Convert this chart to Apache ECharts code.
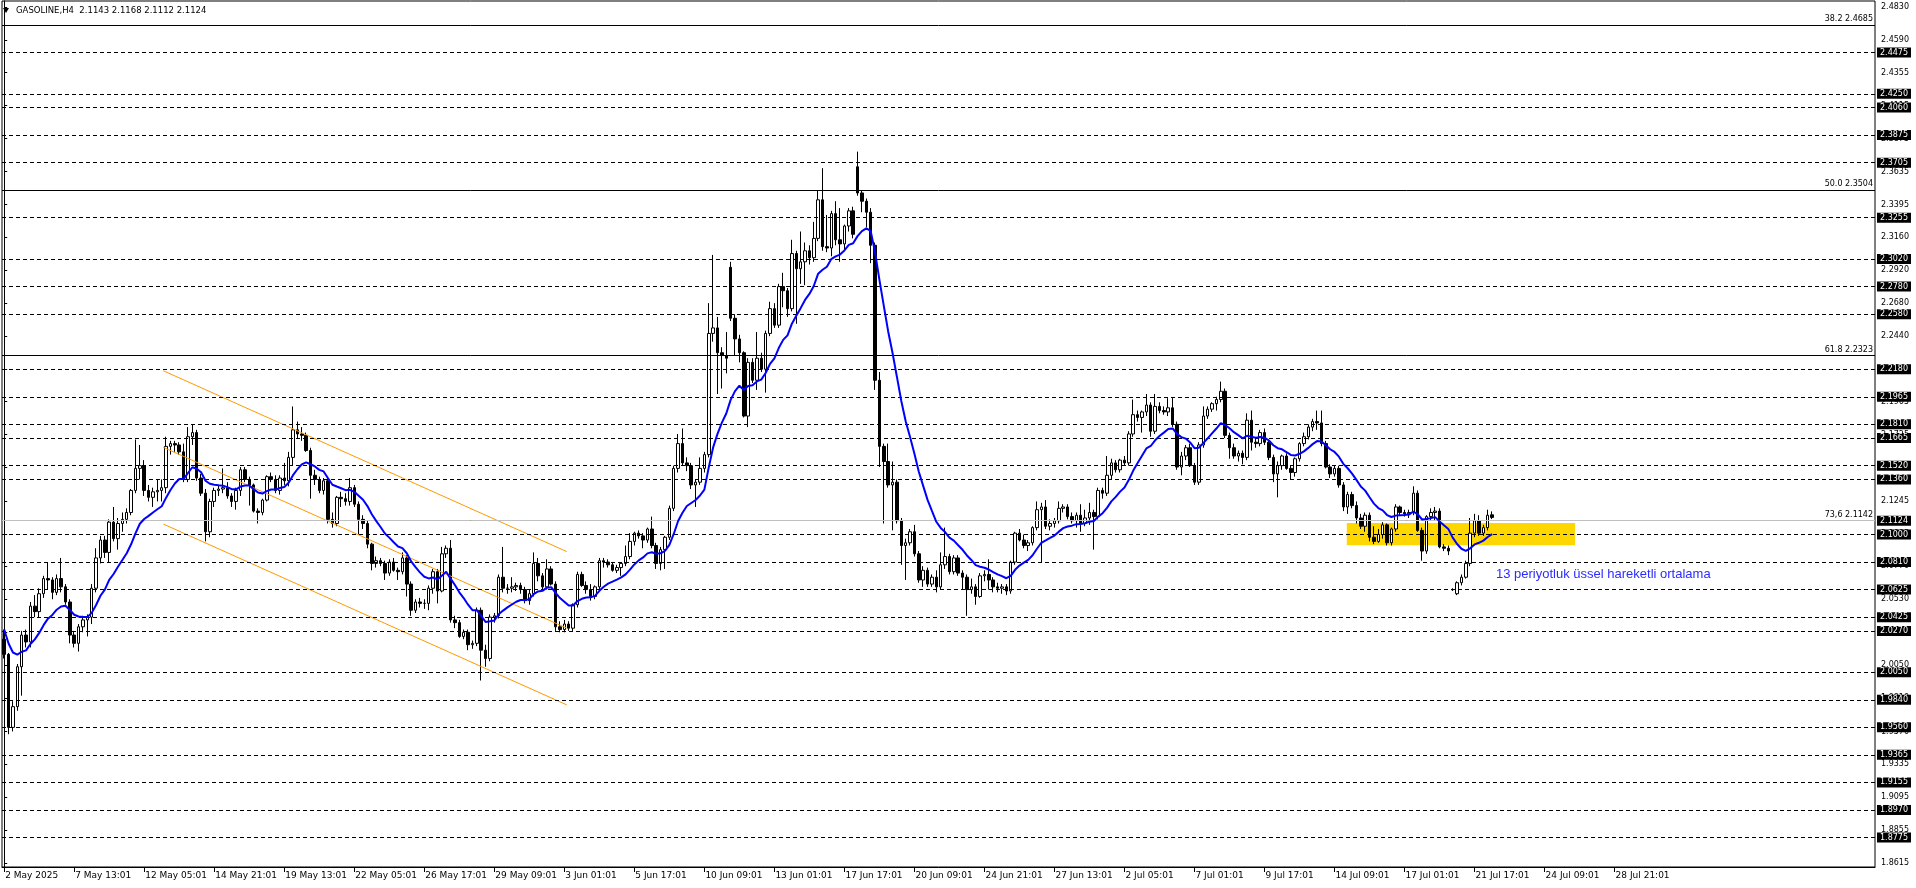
<!DOCTYPE html>
<html><head><meta charset="utf-8">
<script src="https://cdn.jsdelivr.net/npm/echarts@6/dist/echarts.min.js"></script>
<style>html,body{margin:0;padding:0;background:#fff;}#c{width:1916px;height:888px;}</style>
</head><body><div id="c"></div>
<script>
const title = 'GASOLINE,H4  2.1143 2.1168 2.1112 2.1124';
const emaNote = '13 periyotluk üssel hareketli ortalama';
const timeLabels = ['2 May 2025','7 May 13:01','12 May 05:01','14 May 21:01','19 May 13:01','22 May 05:01','26 May 17:01','29 May 09:01','3 Jun 01:01','5 Jun 17:01','10 Jun 09:01','13 Jun 01:01','17 Jun 17:01','20 Jun 09:01','24 Jun 21:01','27 Jun 13:01','2 Jul 05:01','7 Jul 01:01','9 Jul 17:01','14 Jul 09:01','17 Jul 01:01','21 Jul 17:01','24 Jul 09:01','28 Jul 21:01'];
const barsPerLabel = 16;
const totalSlots = 428;
const scaleTicks = [2.4830,2.4590,2.4355,2.4115,2.3875,2.3635,2.3395,2.3160,2.2920,2.2680,2.2440,2.2200,2.1965,2.1725,2.1485,2.1245,2.1005,2.0770,2.0530,2.0290,2.0050,1.9810,1.9570,1.9335,1.9095,1.8855,1.8615];
const levels = [2.4475,2.4250,2.4060,2.3875,2.3705,2.3255,2.3020,2.2780,2.2580,2.2180,2.1965,2.1810,2.1665,2.1520,2.1360,2.1000,2.0810,2.0625,2.0425,2.0270,2.0050,1.9840,1.9560,1.9365,1.9155,1.8970,1.8775];
const fibLevels = [2.4685,2.3504,2.2323,2.1142];
const fibNames = ['38.2 2.4685','50.0 2.3504','61.8 2.2323','73,6 2.1142'];
const lastPrice = 2.1124;
const emaPeriod = 13;
const emaSeed = 2.034;
// channel lines: [startIndex, startPrice, endIndex, endPrice]
const channelUpper = [36.36, 2.2189, 128.55, 2.0876];
const channelMiddle = [36.36, 2.1633, 128.55, 2.0320];
const channelLower = [36.36, 2.1076, 128.55, 1.9763];
// zone: [fromIndex, toIndex, lowPrice, highPrice]
const zone = [306.8, 358.96, 2.0922, 2.1084];
// candles: [open, high, low, close]
const ohlc = [
[2.024,2.031,2.010,2.013],[2.013,2.014,1.955,1.960],[1.960,1.979,1.957,1.975],[1.975,2.006,1.972,2.004],[2.004,2.030,1.983,2.027],
[2.027,2.031,2.018,2.022],[2.022,2.051,2.018,2.048],[2.048,2.056,2.040,2.044],[2.044,2.061,2.040,2.057],[2.057,2.070,2.054,2.068],
[2.068,2.080,2.060,2.067],[2.067,2.069,2.053,2.058],[2.058,2.071,2.056,2.068],[2.068,2.083,2.058,2.062],[2.062,2.064,2.049,2.051],
[2.051,2.053,2.021,2.027],[2.027,2.030,2.018,2.021],[2.021,2.035,2.015,2.033],[2.033,2.041,2.029,2.038],[2.038,2.042,2.026,2.040],
[2.040,2.064,2.035,2.061],[2.061,2.090,2.058,2.083],[2.083,2.099,2.079,2.096],[2.096,2.099,2.083,2.087],[2.087,2.111,2.080,2.109],
[2.109,2.120,2.095,2.097],[2.097,2.112,2.089,2.108],[2.108,2.116,2.102,2.111],[2.111,2.119,2.108,2.116],[2.116,2.133,2.114,2.132],
[2.132,2.169,2.130,2.148],[2.148,2.165,2.140,2.150],[2.150,2.154,2.128,2.132],[2.132,2.136,2.124,2.127],[2.127,2.134,2.120,2.131],
[2.131,2.140,2.124,2.132],[2.132,2.140,2.124,2.134],[2.134,2.171,2.130,2.164],[2.164,2.168,2.158,2.166],[2.166,2.168,2.160,2.165],
[2.165,2.167,2.158,2.160],[2.160,2.166,2.138,2.140],[2.140,2.178,2.138,2.171],[2.171,2.180,2.165,2.174],[2.174,2.176,2.139,2.141],
[2.141,2.144,2.128,2.130],[2.130,2.133,2.095,2.102],[2.102,2.126,2.098,2.124],[2.124,2.134,2.120,2.132],[2.132,2.136,2.128,2.133],
[2.133,2.148,2.130,2.134],[2.134,2.138,2.126,2.128],[2.128,2.130,2.120,2.124],[2.124,2.134,2.118,2.132],[2.132,2.149,2.128,2.147],
[2.147,2.149,2.138,2.140],[2.140,2.142,2.121,2.136],[2.136,2.137,2.116,2.117],[2.117,2.119,2.108,2.116],[2.116,2.126,2.114,2.125],
[2.125,2.143,2.124,2.142],[2.142,2.145,2.138,2.140],[2.140,2.143,2.130,2.132],[2.132,2.143,2.129,2.141],[2.141,2.152,2.136,2.139],
[2.139,2.160,2.135,2.156],[2.156,2.193,2.150,2.176],[2.176,2.182,2.170,2.173],[2.173,2.178,2.168,2.172],[2.172,2.174,2.160,2.161],
[2.161,2.163,2.126,2.143],[2.143,2.147,2.136,2.140],[2.140,2.142,2.130,2.132],[2.132,2.141,2.129,2.139],[2.139,2.141,2.108,2.111],
[2.111,2.116,2.105,2.108],[2.108,2.128,2.106,2.127],[2.127,2.131,2.120,2.126],[2.126,2.130,2.121,2.124],[2.124,2.141,2.121,2.134],
[2.134,2.136,2.120,2.122],[2.122,2.124,2.100,2.111],[2.111,2.114,2.104,2.108],[2.108,2.110,2.090,2.093],[2.093,2.094,2.074,2.079],
[2.079,2.084,2.076,2.081],[2.081,2.083,2.077,2.079],[2.079,2.081,2.067,2.072],[2.072,2.082,2.070,2.080],[2.080,2.083,2.073,2.074],
[2.074,2.076,2.067,2.073],[2.073,2.087,2.071,2.083],[2.083,2.085,2.055,2.064],[2.064,2.066,2.041,2.045],[2.045,2.053,2.043,2.051],
[2.051,2.054,2.047,2.050],[2.050,2.053,2.046,2.050],[2.050,2.063,2.045,2.061],[2.061,2.075,2.057,2.073],[2.073,2.075,2.050,2.059],
[2.059,2.091,2.058,2.086],[2.086,2.092,2.083,2.090],[2.090,2.096,2.036,2.038],[2.038,2.041,2.032,2.036],[2.036,2.038,2.025,2.026],
[2.026,2.031,2.024,2.029],[2.029,2.031,2.016,2.020],[2.020,2.023,2.017,2.021],[2.021,2.047,2.019,2.045],[2.045,2.047,1.994,2.016],
[2.016,2.020,2.004,2.010],[2.010,2.042,2.008,2.040],[2.040,2.043,2.036,2.041],[2.041,2.071,2.039,2.069],[2.069,2.091,2.058,2.061],
[2.061,2.064,2.057,2.061],[2.061,2.069,2.058,2.062],[2.062,2.065,2.059,2.063],[2.063,2.065,2.057,2.060],[2.060,2.062,2.050,2.052],
[2.052,2.060,2.049,2.057],[2.057,2.087,2.055,2.079],[2.079,2.083,2.066,2.070],[2.070,2.072,2.060,2.062],[2.062,2.082,2.060,2.075],
[2.075,2.077,2.063,2.064],[2.064,2.066,2.030,2.033],[2.033,2.037,2.029,2.031],[2.031,2.038,2.029,2.035],[2.035,2.037,2.030,2.032],
[2.032,2.050,2.030,2.049],[2.049,2.073,2.047,2.071],[2.071,2.073,2.062,2.063],[2.063,2.066,2.057,2.060],[2.060,2.064,2.052,2.055],
[2.055,2.063,2.053,2.062],[2.062,2.083,2.060,2.081],[2.081,2.083,2.076,2.080],[2.080,2.082,2.076,2.078],[2.078,2.080,2.073,2.074],
[2.074,2.078,2.072,2.076],[2.076,2.080,2.070,2.079],[2.079,2.092,2.077,2.084],[2.084,2.101,2.082,2.095],[2.095,2.102,2.092,2.101],
[2.101,2.103,2.097,2.099],[2.099,2.101,2.090,2.096],[2.096,2.105,2.094,2.104],[2.104,2.113,2.090,2.092],[2.092,2.094,2.075,2.079],
[2.079,2.091,2.074,2.089],[2.089,2.099,2.075,2.098],[2.098,2.121,2.096,2.119],[2.119,2.150,2.117,2.148],[2.148,2.173,2.145,2.166],
[2.166,2.177,2.150,2.152],[2.152,2.156,2.146,2.150],[2.150,2.152,2.133,2.136],[2.136,2.140,2.120,2.138],[2.138,2.156,2.136,2.148],
[2.148,2.160,2.145,2.158],[2.158,2.268,2.156,2.246],[2.246,2.303,2.240,2.250],[2.250,2.258,2.202,2.232],[2.232,2.236,2.206,2.230],
[2.230,2.247,2.217,2.228],[2.294,2.298,2.255,2.257],[2.257,2.260,2.230,2.242],[2.242,2.245,2.225,2.232],[2.232,2.233,2.185,2.186],
[2.186,2.228,2.178,2.225],[2.225,2.228,2.210,2.212],[2.212,2.247,2.205,2.228],[2.228,2.232,2.218,2.220],[2.220,2.248,2.203,2.246],
[2.246,2.269,2.244,2.264],[2.264,2.268,2.250,2.252],[2.252,2.282,2.250,2.280],[2.280,2.290,2.265,2.277],[2.277,2.279,2.258,2.264],
[2.264,2.314,2.262,2.304],[2.304,2.306,2.253,2.293],[2.293,2.320,2.282,2.298],[2.298,2.312,2.281,2.306],[2.306,2.310,2.296,2.301],
[2.301,2.327,2.298,2.315],[2.315,2.350,2.313,2.343],[2.343,2.366,2.306,2.309],[2.309,2.332,2.305,2.308],[2.308,2.335,2.302,2.333],
[2.333,2.342,2.310,2.314],[2.314,2.337,2.298,2.311],[2.311,2.325,2.306,2.324],[2.324,2.337,2.320,2.335],[2.335,2.338,2.315,2.318],
[2.367,2.378,2.346,2.348],[2.348,2.350,2.334,2.342],[2.342,2.344,2.323,2.334],[2.334,2.337,2.297,2.310],[2.310,2.312,2.205,2.212],
[2.212,2.218,2.149,2.164],[2.164,2.166,2.108,2.153],[2.153,2.166,2.134,2.136],[2.136,2.153,2.103,2.138],[2.138,2.140,2.108,2.110],
[2.110,2.112,2.078,2.092],[2.092,2.097,2.067,2.094],[2.094,2.104,2.092,2.102],[2.102,2.107,2.084,2.086],[2.086,2.088,2.065,2.067],
[2.067,2.077,2.062,2.074],[2.074,2.076,2.062,2.064],[2.064,2.071,2.062,2.069],[2.069,2.074,2.058,2.062],[2.062,2.087,2.060,2.078],
[2.078,2.105,2.075,2.084],[2.084,2.086,2.071,2.073],[2.073,2.085,2.071,2.083],[2.083,2.085,2.070,2.072],[2.072,2.074,2.060,2.069],
[2.069,2.071,2.041,2.060],[2.060,2.068,2.057,2.062],[2.062,2.064,2.049,2.055],[2.055,2.072,2.054,2.070],[2.070,2.074,2.066,2.071],
[2.071,2.082,2.060,2.067],[2.067,2.069,2.058,2.062],[2.062,2.065,2.058,2.061],[2.061,2.064,2.057,2.062],[2.062,2.064,2.056,2.059],
[2.059,2.081,2.057,2.080],[2.080,2.102,2.078,2.101],[2.101,2.104,2.095,2.096],[2.096,2.100,2.090,2.092],[2.092,2.096,2.088,2.094],
[2.094,2.106,2.092,2.105],[2.105,2.124,2.103,2.118],[2.118,2.123,2.080,2.120],[2.120,2.125,2.104,2.106],[2.106,2.111,2.103,2.108],
[2.108,2.112,2.105,2.110],[2.110,2.124,2.108,2.119],[2.119,2.122,2.116,2.120],[2.120,2.122,2.111,2.113],[2.113,2.116,2.108,2.110],
[2.110,2.116,2.105,2.114],[2.114,2.122,2.102,2.108],[2.108,2.118,2.106,2.112],[2.112,2.123,2.107,2.116],[2.116,2.118,2.089,2.113],
[2.113,2.134,2.111,2.132],[2.132,2.134,2.126,2.130],[2.130,2.157,2.128,2.143],[2.143,2.155,2.140,2.152],[2.152,2.154,2.145,2.147],
[2.147,2.155,2.145,2.154],[2.154,2.157,2.150,2.152],[2.152,2.175,2.150,2.173],[2.173,2.198,2.171,2.187],[2.187,2.190,2.182,2.185],
[2.185,2.190,2.174,2.189],[2.189,2.202,2.186,2.194],[2.194,2.196,2.171,2.175],[2.175,2.202,2.173,2.193],[2.193,2.196,2.188,2.190],
[2.190,2.193,2.187,2.189],[2.189,2.199,2.186,2.192],[2.192,2.199,2.178,2.180],[2.180,2.182,2.147,2.149],[2.149,2.160,2.143,2.157],
[2.157,2.165,2.154,2.163],[2.163,2.166,2.149,2.150],[2.150,2.152,2.136,2.138],[2.138,2.167,2.136,2.165],[2.165,2.193,2.163,2.186],
[2.186,2.193,2.184,2.191],[2.191,2.196,2.189,2.195],[2.195,2.200,2.190,2.198],[2.198,2.211,2.196,2.204],[2.204,2.206,2.170,2.172],
[2.172,2.174,2.155,2.163],[2.163,2.166,2.155,2.157],[2.157,2.161,2.153,2.159],[2.159,2.161,2.151,2.156],[2.156,2.188,2.154,2.183],
[2.183,2.190,2.161,2.167],[2.167,2.170,2.163,2.166],[2.166,2.176,2.164,2.174],[2.174,2.177,2.165,2.167],[2.167,2.169,2.154,2.156],
[2.156,2.158,2.138,2.144],[2.144,2.153,2.127,2.150],[2.150,2.158,2.147,2.157],[2.157,2.159,2.147,2.148],[2.148,2.150,2.140,2.145],
[2.145,2.156,2.142,2.155],[2.155,2.167,2.153,2.166],[2.166,2.174,2.164,2.171],[2.171,2.180,2.169,2.178],[2.178,2.184,2.175,2.182],
[2.182,2.190,2.176,2.181],[2.181,2.190,2.164,2.166],[2.166,2.168,2.148,2.149],[2.149,2.151,2.141,2.144],[2.144,2.150,2.142,2.148],
[2.148,2.150,2.134,2.136],[2.136,2.138,2.117,2.120],[2.120,2.131,2.115,2.129],[2.129,2.131,2.119,2.121],[2.121,2.124,2.108,2.112],
[2.112,2.115,2.104,2.106],[2.106,2.116,2.102,2.114],[2.114,2.116,2.095,2.098],[2.098,2.106,2.093,2.095],[2.095,2.104,2.094,2.100],
[2.100,2.109,2.097,2.107],[2.107,2.108,2.092,2.094],[2.094,2.105,2.092,2.104],[2.104,2.122,2.102,2.120],[2.120,2.121,2.114,2.116],
[2.116,2.118,2.113,2.115],[2.115,2.118,2.112,2.116],[2.116,2.135,2.114,2.130],[2.130,2.132,2.102,2.103],[2.103,2.105,2.081,2.088],
[2.088,2.114,2.086,2.113],[2.113,2.119,2.110,2.116],[2.116,2.120,2.110,2.117],[2.117,2.119,2.090,2.091],[2.091,2.093,2.088,2.090],
[2.090,2.092,2.085,2.088],[2.060,2.061,2.059,2.060],[2.057,2.066,2.056,2.065],[2.065,2.071,2.063,2.069],[2.069,2.081,2.068,2.079],
[2.079,2.112,2.077,2.101],[2.101,2.115,2.098,2.110],[2.110,2.114,2.099,2.101],[2.101,2.107,2.099,2.105],[2.105,2.118,2.103,2.114],
[2.1143,2.1168,2.1112,2.1124]
];

const categories = Array.from({length: totalSlots}, (_, i) => String(i));
const candleData = ohlc.map(r => [r[0], r[3], r[2], r[1]]);
const k = 2 / (emaPeriod + 1);
let e = emaSeed;
const emaData = ohlc.map(r => { e = e + k * (r[3] - e); return +e.toFixed(5); });
const isLabel = i => i % barsPerLabel === 0 && i / barsPerLabel < timeLabels.length;

const FONT = 'DejaVu Sans';
const lineData = [];
levels.forEach(v => lineData.push({
  yAxis: v,
  lineStyle: {type: [4, 3], color: '#000', width: 1},
  label: {show: true, position: 'end', formatter: v.toFixed(4), color: '#fff', backgroundColor: '#000',
          padding: [1, 3, 1, 3], fontSize: 8, fontFamily: FONT, distance: 2}
}));
fibLevels.forEach((v, i) => lineData.push({
  yAxis: v,
  lineStyle: {type: 'solid', color: '#000', width: 1},
  label: {show: true, position: 'insideEndTop', formatter: fibNames[i], color: '#000', fontSize: 8, fontFamily: FONT, distance: 2}
}));
lineData.push({
  yAxis: lastPrice,
  lineStyle: {type: 'solid', color: '#c0c0c0', width: 1},
  label: {show: true, position: 'end', formatter: lastPrice.toFixed(4), color: '#fff', backgroundColor: '#000',
          padding: [1, 3, 1, 3], fontSize: 8, fontFamily: FONT, distance: 2}
});

const chLine = (c) => ({
  type: 'line', xAxisIndex: 1, yAxisIndex: 0, data: [[c[0], c[1]], [c[2], c[3]]],
  symbol: 'none', lineStyle: {color: '#ff9900', width: 1}, z: 4, silent: true, animation: false
});

const chart = echarts.init(document.getElementById('c'), null, {renderer: 'canvas'});
chart.setOption({
  animation: false,
  backgroundColor: '#fff',
  grid: {left: 2, right: 41, top: 1, bottom: 21, show: true, borderColor: '#000', borderWidth: 1, backgroundColor: '#fff'},
  xAxis: [{
    type: 'category', data: categories, boundaryGap: true,
    axisLine: {show: true, lineStyle: {color: '#000', width: 1}},
    axisTick: {show: true, alignWithLabel: true, interval: (i) => isLabel(i), length: 5, lineStyle: {color: '#000'}},
    axisLabel: {show: true, interval: (i) => isLabel(i), formatter: (v, idx) => timeLabels[idx / barsPerLabel],
                align: 'left', padding: [0, 0, 0, 1], margin: 4, fontSize: 9, fontFamily: FONT, color: '#000'},
    splitLine: {show: false}
  }, {
    type: 'value', min: -0.5, max: totalSlots - 0.5, show: false
  }],
  yAxis: [{
    type: 'value', position: 'right', min: 1.85859, max: 2.48736, scale: true,
    axisLine: {show: true, lineStyle: {color: '#000', width: 1}},
    axisTick: {show: true, length: 3, customValues: scaleTicks, lineStyle: {color: '#000'}},
    axisLabel: {show: true, customValues: scaleTicks, formatter: v => v.toFixed(4), margin: 6,
                fontSize: 8, fontFamily: FONT, color: '#000'},
    splitLine: {show: false}
  }],
  series: [
    {
      name: 'zone', type: 'line', xAxisIndex: 1, data: [[zone[0], zone[2]]], symbol: 'none',
      lineStyle: {opacity: 0}, z: 1, silent: true,
      markArea: {silent: true, itemStyle: {color: '#ffd700', opacity: 1},
        data: [[{xAxis: zone[0], yAxis: zone[3]}, {xAxis: zone[1], yAxis: zone[2]}]]}
    },
    {
      name: 'GASOLINE', type: 'candlestick', xAxisIndex: 0, data: candleData, barWidth: 3, z: 3,
      itemStyle: {color: '#ffffff', color0: '#000000', borderColor: '#000000', borderColor0: '#000000', borderWidth: 1},
      silent: true
    },
    {
      name: 'EMA13', type: 'line', xAxisIndex: 0, data: emaData, symbol: 'none', smooth: false,
      lineStyle: {color: '#0000ff', width: 2}, z: 5, silent: true
    },
    chLine(channelUpper), chLine(channelMiddle), chLine(channelLower),
    {
      name: 'levels', type: 'line', xAxisIndex: 1, data: [[0, lastPrice]], symbol: 'none',
      lineStyle: {opacity: 0}, z: 6, silent: true,
      markLine: {silent: true, symbol: ['none', 'none'], animation: false, data: lineData}
    }
  ],
  graphic: [
    {type: 'polygon', shape: {points: [[3, 8], [9, 8], [6, 13]]}, style: {fill: '#000'}, z: 100},
    {type: 'text', x: 16, y: 11, style: {text: title, font: '8.5px "DejaVu Sans"', fill: '#000', verticalAlign: 'middle', align: 'left'}, z: 100},
    {type: 'text', x: 1496, y: 574, style: {text: emaNote, font: '13px "Liberation Sans"', fill: '#2b2bff', verticalAlign: 'middle', align: 'left'}, z: 100}
  ]
});
</script>
</body></html>
